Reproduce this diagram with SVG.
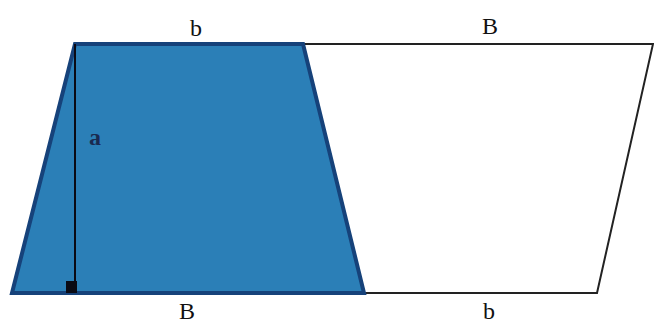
<svg xmlns="http://www.w3.org/2000/svg" width="654" height="325" viewBox="0 0 654 325">
<style>
.lbl{font-family:"Liberation Serif","Times New Roman",serif;font-size:24px;fill:#111;text-anchor:middle}
.bold{font-weight:bold;fill:#1a2a50}
.thin{fill:none;stroke:#222;stroke-width:2}
</style>
<rect width="654" height="325" fill="#fff"/>
<g id="parallelogram-extension">
<polyline class="thin" points="303,44 653,44 597,293 365,293"/>
</g>
<g id="trapezoid">
<polygon points="75,44 303,44 364,293 12,293" fill="#2b7fb7" stroke="#16427a" stroke-width="4" stroke-linejoin="miter"/>
</g>
<g id="height">
<line x1="75" y1="44" x2="75" y2="293" stroke="#0a0a14" stroke-width="2"/>
<rect x="66" y="281" width="11" height="12" fill="#0a0a14"/>
</g>
<g id="labels">
<text class="lbl" x="196" y="36">b</text>
<text class="lbl" x="490" y="34">B</text>
<text class="lbl bold" x="95" y="145">a</text>
<text class="lbl" x="187" y="319">B</text>
<text class="lbl" x="489" y="319">b</text>
</g>
</svg>
